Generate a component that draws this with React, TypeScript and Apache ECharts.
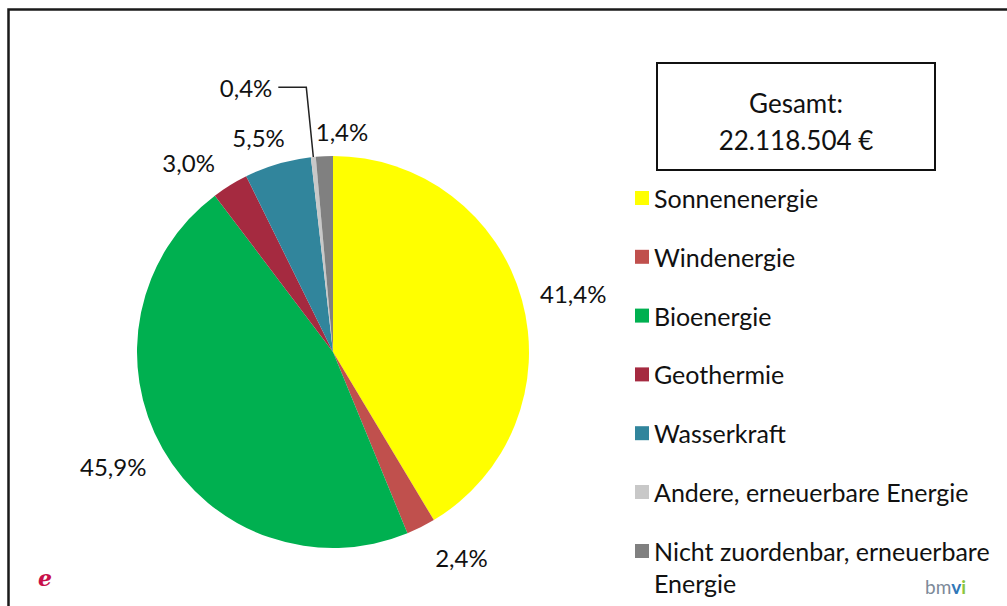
import React, { useEffect, useRef } from 'react';
import * as echarts from 'echarts';

const categories = [
  'Sonnenenergie',
  'Windenergie',
  'Bioenergie',
  'Geothermie',
  'Wasserkraft',
  'Andere, erneuerbare Energie',
  'Nicht zuordenbar, erneuerbare Energie',
];
const shares = [41.4, 2.4, 45.9, 3.0, 5.5, 0.4, 1.4];
const totalLines = ['Gesamt:', '22.118.504 €'];

const colors = ['#FFFF00', '#C0504D', '#00B050', '#A52A40', '#31859C', '#C8C8C8', '#808080'];

// label placement tweaks (style, not data)
const labelTweaks = [
  { len: 25, len2: 0, dist: -6, line: false, pad: 0 },
  { len: 34, len2: 0, dist: -1, line: false, pad: 0 },
  { len: 36, len2: 0, dist: -15, line: false, pad: 0 },
  { len: 27, len2: 0, dist: 1, line: false, pad: 0 },
  { len: 28, len2: 0, dist: -15, line: false, pad: 0 },
  { len: 70, len2: 28, dist: 6, line: true, pad: 18 },
  { len: 25, len2: 0, dist: -45, line: false, pad: 0 },
];

const FONT = 'Lato';

export default function App() {
  const ref = useRef<HTMLDivElement>(null);
  useEffect(() => {
    if (!ref.current) return;
    const chart = echarts.init(ref.current, undefined, { renderer: 'svg' });
    const fmt = (p: any) => p.value.toFixed(1).replace('.', ',') + '%';
    const option: any = {
      animation: false,
      backgroundColor: '#ffffff',
      legend: [
        {
          orient: 'vertical',
          left: 635,
          top: 184,
          padding: 0,
          itemWidth: 14,
          itemHeight: 14,
          itemGap: 30.8,
          icon: 'rect',
          selectedMode: false,
          data: categories.slice(0, 6),
          textStyle: { fontFamily: FONT, fontSize: 25, color: '#111', lineHeight: 28 },
        },
        {
          orient: 'vertical',
          left: 635,
          top: 503,
          padding: 0,
          itemWidth: 14,
          itemHeight: 14,
          icon: 'rect',
          selectedMode: false,
          data: categories.slice(6),
          formatter: (n: string) =>
            '\n' + n.replace(', erneuerbare Energie', ', erneuerbare\nEnergie'),
          textStyle: {
            fontFamily: FONT,
            fontSize: 25,
            color: '#111',
            lineHeight: 32,
          },
        },
      ],
      graphic: [
        {
          type: 'rect',
          silent: true,
          shape: { x: 8.5, y: 9.5, width: 1200, height: 800 },
          style: { fill: 'none', stroke: '#1a1a1a', lineWidth: 2.5 },
        },
        {
          type: 'rect',
          silent: true,
          shape: { x: 657, y: 63, width: 278, height: 107 },
          style: { fill: '#ffffff', stroke: '#111', lineWidth: 2 },
        },
        {
          type: 'text',
          silent: true,
          x: 796,
          y: 121.5,
          style: {
            text: totalLines.join('\n'),
            fontFamily: FONT,
            fontSize: 26,
            lineHeight: 37,
            fill: '#111',
            align: 'center',
            verticalAlign: 'middle',
          },
        },
        {
          type: 'text',
          silent: true,
          x: 45,
          y: 578,
          style: {
            text: 'e',
            fontFamily: 'DejaVu Serif',
            fontStyle: 'italic',
            fontWeight: 'bold',
            fontSize: 22,
            fill: '#c8104a',
            align: 'center',
            verticalAlign: 'middle',
          },
        },
        {
          type: 'text',
          silent: true,
          x: 925,
          y: 586,
          style: {
            text: '{a|bm}{b|v}{c|i}',
            verticalAlign: 'middle',
            rich: {
              a: { fontFamily: FONT, fontSize: 19, fill: '#7d8a99' },
              b: { fontFamily: FONT, fontSize: 19, fontWeight: 'bold', fill: '#2f77b8' },
              c: { fontFamily: FONT, fontSize: 19, fontWeight: 'bold', fill: '#8cc63f' },
            },
          },
        },
      ],
      series: [
        {
          type: 'pie',
          center: [333, 352],
          radius: 196,
          startAngle: 90,
          clockwise: true,
          avoidLabelOverlap: false,
          emphasis: { disabled: true },
          label: {
            show: true,
            position: 'outside',
            fontFamily: FONT,
            fontSize: 24,
            color: '#111',
            formatter: fmt,
          },
          labelLine: { show: false },
          data: categories.map((name, i) => {
            const t = labelTweaks[i];
            return {
              name,
              value: shares[i],
              itemStyle: { color: colors[i] },
              label: { distanceToLabelLine: t.dist, padding: [0, 0, t.pad, 0] },
              labelLine: {
                show: t.line,
                length: t.len,
                length2: t.len2,
                lineStyle: { color: '#222', width: 1.5 },
              },
            };
          }),
        },
      ],
    };
    chart.setOption(option);
    return () => chart.dispose();
  }, []);
  return (
    <div
      ref={ref}
      style={{ position: 'absolute', left: 0, top: 0, width: 1007, height: 606 }}
    />
  );
}
